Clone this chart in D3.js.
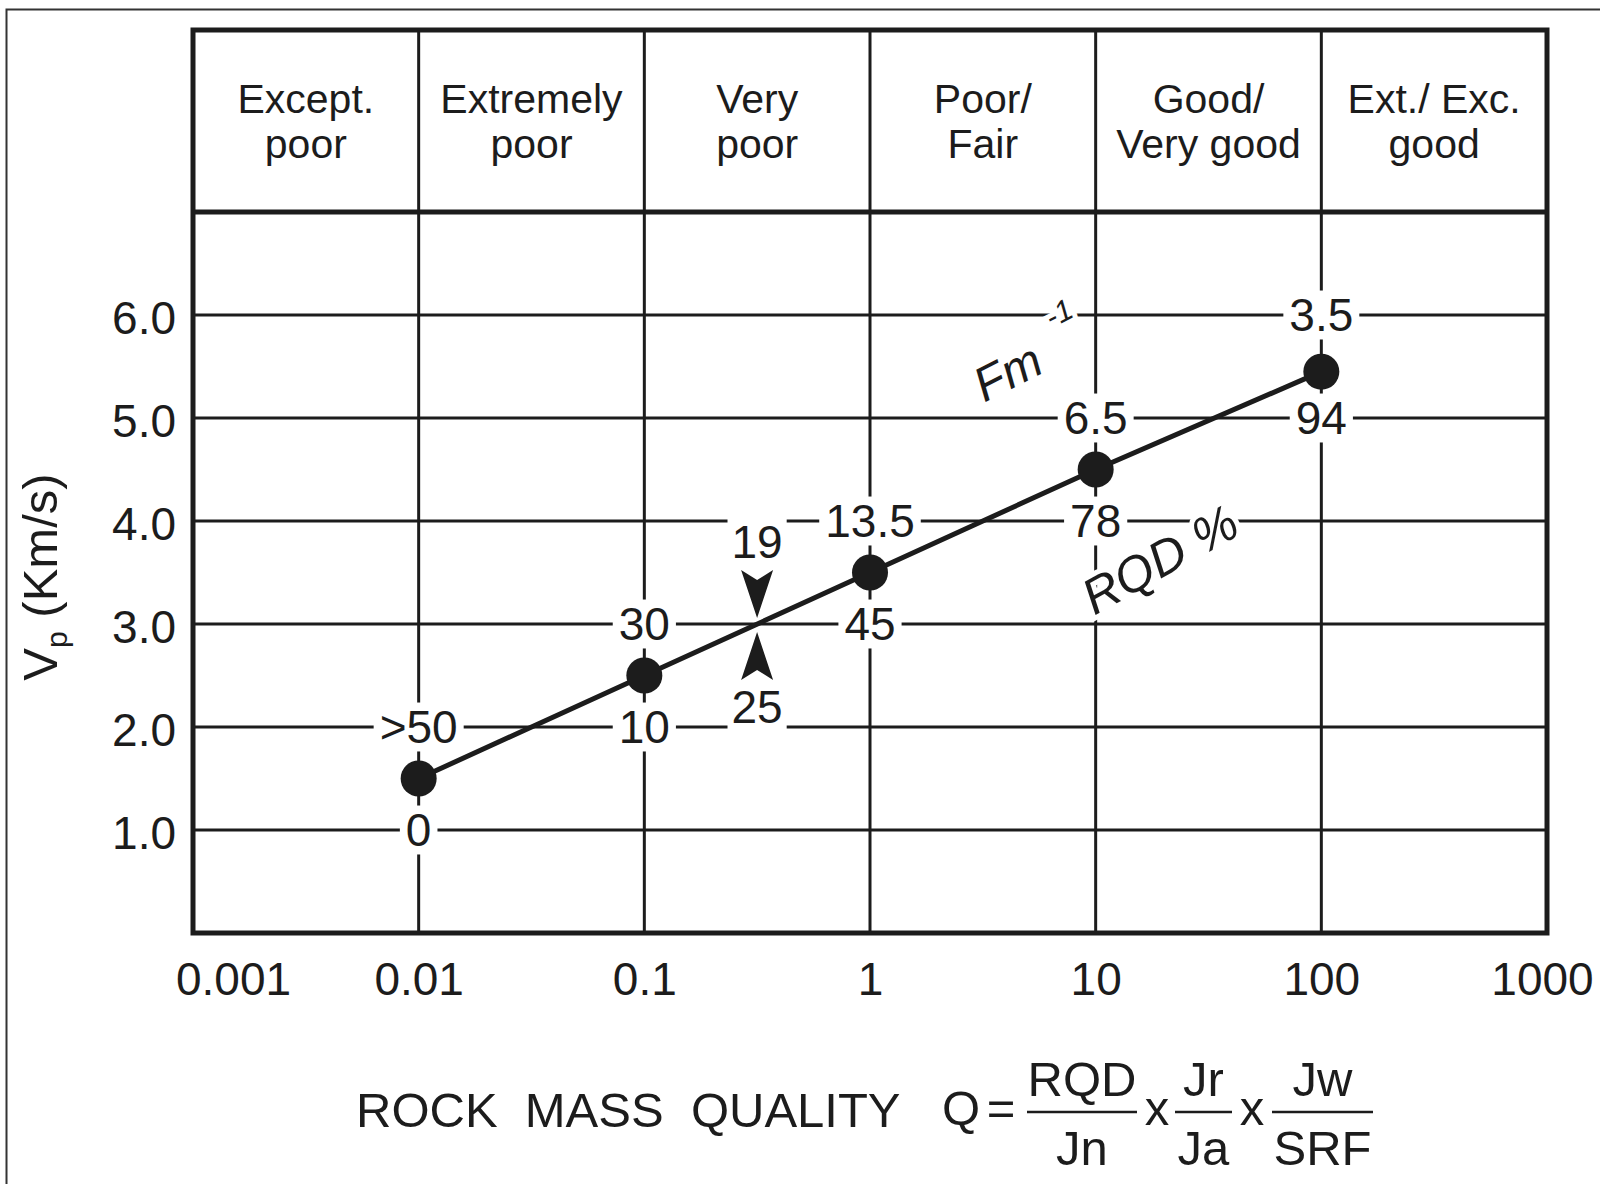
<!DOCTYPE html>
<html>
<head>
<meta charset="utf-8">
<script src="https://cdn.jsdelivr.net/npm/d3@7"></script>
<style>
  body { margin: 0; background: #fff; }
  svg { display: block; font-family: "Liberation Sans", Arial, sans-serif; }
</style>
</head>
<body>
<div id="chart"></div>
<script>
"use strict";

// the chart values
const qValues = [0.01, 0.1, 1, 10, 100];
const vpValues = [1.5, 2.5, 3.5, 4.5, 5.45];
const fmLabels = [">50", "30", "13.5", "6.5", "3.5"];
const fmLabelVp = [2, 3, 4, 5, 6];
const rqdLabels = ["0", "10", "45", "78", "94"];
const rqdLabelVp = [1, 2, 3, 4, 5];
const classTop = ["Except.", "Extremely", "Very", "Poor/", "Good/", "Ext./ Exc."];
const classBottom = ["poor", "poor", "poor", "Fair", "Very good", "good"];
const xTicks = [0.001, 0.01, 0.1, 1, 10, 100, 1000];
const xTickLabels = ["0.001", "0.01", "0.1", "1", "10", "100", "1000"];
const yTicks = [1, 2, 3, 4, 5, 6];
const crossQ = 0.316;
const crossVp = 3.0;
const crossLabels = ["19", "25"];
const crossLabelVp = [3.8, 2.2];

const INK = "#1c1c1c";
const W = 1600;
const H = 1184;

window.addEventListener("load", function () {
  draw();
});

// text with a white box behind it, cut into the grid
function boxedLabel(parent, txt, cx, cy, size, padX, padY) {
  const g = parent.append("g");
  const rect = g.append("rect").attr("fill", "#fff");
  const t = g
    .append("text")
    .attr("x", cx)
    .attr("y", cy + 0.358 * size)
    .attr("text-anchor", "middle")
    .attr("font-size", size)
    .attr("fill", INK)
    .text(txt);
  const w = t.node().getComputedTextLength();
  rect
    .attr("x", cx - w / 2 - padX)
    .attr("y", cy - 0.358 * size - padY)
    .attr("width", w + 2 * padX)
    .attr("height", 0.716 * size + 2 * padY);
}

function draw() {
  const left = 193;
  const right = 1547;
  const top = 30;
  const bottom = 933;

  const x = d3.scaleLog().domain([0.001, 1000]).range([left, right]);
  const y = d3.scaleLinear().domain([0, 7]).range([bottom, 212]);

  const svg = d3
    .select("#chart")
    .append("svg")
    .attr("width", W)
    .attr("height", H);

  svg.append("rect").attr("width", W).attr("height", H).attr("fill", "#fff");

  // outer frame
  svg
    .append("rect")
    .attr("x", 6.5)
    .attr("y", 9.5)
    .attr("width", W + 100)
    .attr("height", H + 100)
    .attr("fill", "none")
    .attr("stroke", "#333")
    .attr("stroke-width", 2);

  // grid
  const grid = svg.append("g").attr("stroke", INK).attr("stroke-width", 3);
  grid
    .selectAll("line.v")
    .data(xTicks.slice(1, -1))
    .enter()
    .append("line")
    .attr("x1", (d) => x(d))
    .attr("x2", (d) => x(d))
    .attr("y1", top)
    .attr("y2", bottom);
  grid
    .selectAll("line.h")
    .data(yTicks)
    .enter()
    .append("line")
    .attr("x1", left)
    .attr("x2", right)
    .attr("y1", (d) => y(d))
    .attr("y2", (d) => y(d));

  // header row and frame
  svg
    .append("line")
    .attr("x1", left)
    .attr("x2", right)
    .attr("y1", y(7))
    .attr("y2", y(7))
    .attr("stroke", INK)
    .attr("stroke-width", 5);
  svg
    .append("rect")
    .attr("x", left)
    .attr("y", top)
    .attr("width", right - left)
    .attr("height", bottom - top)
    .attr("fill", "none")
    .attr("stroke", INK)
    .attr("stroke-width", 5);

  const cells = svg
    .append("g")
    .selectAll("g")
    .data(classTop.map((d, i) => ({ a: d, b: classBottom[i], i: i })))
    .enter()
    .append("g")
    .attr("font-size", 41)
    .attr("fill", INK)
    .attr("text-anchor", "middle");
  const cellX = (d) => (x(xTicks[d.i]) + x(xTicks[d.i + 1])) / 2;
  cells.append("text").attr("x", cellX).attr("y", 113).text((d) => d.a);
  cells.append("text").attr("x", cellX).attr("y", 158).text((d) => d.b);

  // axes
  const yAxis = svg
    .append("g")
    .attr("transform", `translate(${left}, 0)`)
    .call(
      d3
        .axisLeft(y)
        .tickValues(yTicks)
        .tickFormat(d3.format(".1f"))
        .tickSize(0)
        .tickPadding(17)
    );
  yAxis.select(".domain").remove();
  yAxis
    .selectAll("text")
    .attr("font-size", 46)
    .attr("font-family", "Liberation Sans, Arial, sans-serif")
    .attr("fill", INK)
    .attr("dy", "0.4em");

  const xAxis = svg
    .append("g")
    .attr("transform", `translate(0, ${bottom})`)
    .call(
      d3
        .axisBottom(x)
        .tickValues(xTicks)
        .tickFormat((d, i) => xTickLabels[i])
        .tickSize(0)
        .tickPadding(29)
    );
  xAxis.select(".domain").remove();
  xAxis
    .selectAll("text")
    .attr("font-size", 46)
    .attr("font-family", "Liberation Sans, Arial, sans-serif")
    .attr("fill", INK)
    .attr("dx", (d, i) => (i === 0 ? 40 : i === xTicks.length - 1 ? -5 : 0));

  // y axis title
  const yTitle = svg
    .append("text")
    .attr("transform", "translate(57, 577) rotate(-90)")
    .attr("text-anchor", "middle")
    .attr("font-size", 49)
    .attr("fill", INK);
  yTitle.append("tspan").text("V");
  yTitle.append("tspan").attr("font-size", 30).attr("dy", 10).text("p");
  yTitle.append("tspan").attr("dy", -10).text(" (Km/s)");

  // labels on the grid
  const labels = svg.append("g");
  fmLabels.forEach((d, i) => {
    boxedLabel(labels, d, x(qValues[i]), y(fmLabelVp[i]), 46, 6, 8);
  });
  rqdLabels.forEach((d, i) => {
    boxedLabel(labels, d, x(qValues[i]), y(rqdLabelVp[i]), 46, 6, 8);
  });
  crossLabels.forEach((d, i) => {
    boxedLabel(labels, d, x(crossQ), y(crossLabelVp[i]), 46, 4, 9);
  });

  // arrowheads pointing at the crossing
  const cx = x(crossQ);
  const cy = y(crossVp);
  const arrow = "M0,0 L-16,-48 L0,-38 L16,-48 Z";
  svg
    .append("path")
    .attr("d", arrow)
    .attr("fill", INK)
    .attr("transform", `translate(${cx}, ${cy - 6})`);
  svg
    .append("path")
    .attr("d", arrow)
    .attr("fill", INK)
    .attr("transform", `translate(${cx}, ${cy + 8}) rotate(180)`);

  // rotated scale names
  const halo = (sel) =>
    sel
      .attr("fill", INK)
      .attr("stroke", "#fff")
      .attr("stroke-width", 10)
      .attr("paint-order", "stroke")
      .attr("font-style", "italic");
  svg
    .append("text")
    .attr("transform", `translate(${x(4.4)}, ${y(5.3)}) rotate(-27)`)
    .attr("text-anchor", "middle")
    .attr("font-size", 48)
    .call(halo)
    .text("Fm");
  svg
    .append("text")
    .attr("transform", `translate(${x(7.2)}, ${y(5.93)}) rotate(-27)`)
    .attr("text-anchor", "middle")
    .attr("font-size", 30)
    .call(halo)
    .text("-1");
  svg
    .append("text")
    .attr("transform", `translate(${x(21)}, ${y(3.48)}) rotate(-29)`)
    .attr("text-anchor", "middle")
    .attr("font-size", 50)
    .call(halo)
    .text("RQD %");

  // the line and the dots
  const pts = qValues.map((q, i) => [q, vpValues[i]]);
  svg
    .append("path")
    .datum(pts)
    .attr("fill", "none")
    .attr("stroke", INK)
    .attr("stroke-width", 5)
    .attr("d", d3.line().x((d) => x(d[0])).y((d) => y(d[1])));
  svg
    .selectAll("circle.dot")
    .data(pts)
    .enter()
    .append("circle")
    .attr("class", "dot")
    .attr("cx", (d) => x(d[0]))
    .attr("cy", (d) => y(d[1]))
    .attr("r", 18)
    .attr("fill", INK);

  // axis title with the Q formula
  const f = svg.append("g").attr("font-size", 49).attr("fill", INK);
  f.append("text")
    .attr("x", 356)
    .attr("y", 1127)
    .attr("xml:space", "preserve")
    .style("white-space", "pre")
    .text("ROCK  MASS  QUALITY");
  f.append("text").attr("x", 942).attr("y", 1125).text("Q");
  f.append("text")
    .attr("x", 1001)
    .attr("y", 1125)
    .attr("text-anchor", "middle")
    .text("=");
  const fracs = [
    ["RQD", "Jn", 1027, 1137],
    ["Jr", "Ja", 1175, 1232],
    ["Jw", "SRF", 1272, 1373],
  ];
  fracs.forEach((d) => {
    const m = (d[2] + d[3]) / 2;
    f.append("line")
      .attr("x1", d[2])
      .attr("x2", d[3])
      .attr("y1", 1112)
      .attr("y2", 1112)
      .attr("stroke", INK)
      .attr("stroke-width", 2.5);
    f.append("text").attr("x", m).attr("y", 1096).attr("text-anchor", "middle").text(d[0]);
    f.append("text").attr("x", m).attr("y", 1165).attr("text-anchor", "middle").text(d[1]);
  });
  [1157, 1252].forEach((m) => {
    f.append("text").attr("x", m).attr("y", 1125).attr("text-anchor", "middle").text("x");
  });
}
</script>
</body>
</html>
